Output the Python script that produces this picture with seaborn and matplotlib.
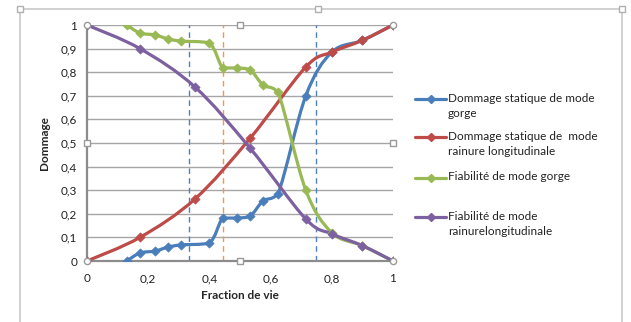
import numpy as np
import pandas as pd
import matplotlib
matplotlib.use("Agg")
import matplotlib.pyplot as plt
import seaborn as sns
from matplotlib.path import Path
from matplotlib.patches import PathPatch, Rectangle
from matplotlib.lines import Line2D

# ---- data ----
x_gorge = [0.13, 0.173, 0.222, 0.265, 0.307, 0.399, 0.444, 0.49, 0.533, 0.575, 0.624, 0.715, 0.8, 0.9, 1.0]
dommage_gorge = [0.0, 0.034, 0.042, 0.059, 0.068, 0.076, 0.182, 0.182, 0.19, 0.254, 0.284, 0.70, 0.885, 0.935, 1.0]
fiab_gorge = [1.0, 0.966, 0.958, 0.941, 0.932, 0.924, 0.818, 0.818, 0.81, 0.746, 0.716, 0.30, 0.12, 0.065, 0.0]

x_rainure = [0.0, 0.173, 0.353, 0.533, 0.715, 0.8, 0.9, 1.0]
dommage_rainure = [0.0, 0.10, 0.263, 0.52, 0.822, 0.885, 0.935, 1.0]
fiab_rainure = [1.0, 0.90, 0.737, 0.478, 0.178, 0.115, 0.065, 0.0]

vlines_x = [1/3, 0.443, 0.748]
vlines_colors = ["#4F81BD", "#F79646", "#4F81BD"]

labels = ["Dommage statique de mode\ngorge",
          "Dommage statique de  mode\nrainure longitudinale",
          "Fiabilité de mode gorge",
          "Fiabilité de mode\nrainurelongitudinale"]
colors = ["#4A7EBB", "#BE4B48", "#98B954", "#7D60A0"]

x_ticks = [0, 0.2, 0.4, 0.6, 0.8, 1.0]
y_ticks = [round(0.1 * i, 1) for i in range(11)]

def fmt(v):
    return ("%g" % v).replace(".", ",")

series = [
    (x_gorge, dommage_gorge),
    (x_rainure, dommage_rainure),
    (x_gorge, fiab_gorge),
    (x_rainure, fiab_rainure),
]

sns.set_theme(style="white")
plt.rcParams["font.family"] = ["Lato", "DejaVu Sans"]

fig = plt.figure(figsize=(6.31, 3.22), dpi=100)
ax = fig.add_axes([87/631, 1-261/322, 306/631, 236/322])

def smooth_path(xs, ys):
    P = np.column_stack([xs, ys]).astype(float)
    n = len(P)
    verts = [P[0]]
    codes = [Path.MOVETO]
    for i in range(n - 1):
        p0 = P[i - 1] if i > 0 else P[i]
        p1 = P[i]
        p2 = P[i + 1]
        p3 = P[i + 2] if i + 2 < n else P[i + 1]
        c1 = p1 + (p2 - p0) / 6.0
        c2 = p2 - (p3 - p1) / 6.0
        lo, hi = min(p1[1], p2[1]), max(p1[1], p2[1])
        c1[1] = np.clip(c1[1], lo, hi)
        c2[1] = np.clip(c2[1], lo, hi)
        verts += [c1, c2, p2]
        codes += [Path.CURVE4] * 3
    return Path(verts, codes)

# grid
for yv in y_ticks[1:]:
    ax.axhline(yv, color="#A6A6A6", lw=1.0, zorder=0)

for xv, c in zip(vlines_x, vlines_colors):
    ax.axvline(xv, color=c, lw=1.0, ls=(0, (4, 3)), zorder=1)

for (xs, ys), c in zip(series, colors):
    patch = PathPatch(smooth_path(xs, ys), facecolor="none", edgecolor=c,
                      lw=2.3, transform=ax.transData, zorder=2, capstyle="round")
    ax.add_patch(patch)
    df = pd.DataFrame({"x": xs, "y": ys})
    sns.scatterplot(data=df, x="x", y="y", ax=ax, marker="D", s=22,
                    color=c, edgecolor=c, linewidth=0.5, zorder=3, legend=False)

ax.set_xlim(0, 1)
ax.set_ylim(0, 1)
ax.set_xticks(x_ticks)
ax.set_xticklabels([fmt(v) for v in x_ticks], fontsize=8.5, color="#222222")
ax.set_yticks(y_ticks)
ax.set_yticklabels([fmt(v) for v in y_ticks], fontsize=8.5, color="#222222")
ax.tick_params(axis="both", length=3, width=1, color="#888888", direction="out", pad=4)
ax.tick_params(axis="x", pad=6)
for side in ["top", "right"]:
    ax.spines[side].set_visible(False)
for side in ["left", "bottom"]:
    ax.spines[side].set_color("#8C8C8C")
    ax.spines[side].set_linewidth(1.6)
ax.set_xlabel("Fraction de vie", fontsize=8.5, fontweight="bold", labelpad=4)
ax.set_ylabel("Dommage", fontsize=8.5, fontweight="bold", labelpad=8)

# selection handles of the plot area
hx = [0, 0.5, 1, 0, 1, 0, 0.5, 1]
hy = [1, 1, 1, 0.5, 0.5, 0, 0, 0]
hm = ["o", "s", "o", "s", "s", "o", "s", "o"]
for a, b, m in zip(hx, hy, hm):
    ax.plot([a], [b], marker=m, ms=4.5, mfc="white", mec="#9A9A9A", mew=1,
            clip_on=False, zorder=5, ls="none")

# outer chart frame
fig.add_artist(Rectangle((20/631, 1-325/322), 602/631, 316/322, transform=fig.transFigure,
                         facecolor="none", edgecolor="#C8C8C8", lw=1.2, clip_on=False))
for px, py in [(20, 9), (318, 9), (622, 9)]:
    fig.add_artist(Line2D([px/631], [1-py/322], marker="s", ms=4.5, mfc="white",
                          mec="#B0B0B0", mew=1, transform=fig.transFigure, ls="none"))

# legend
leg_y = [99, 137, 178, 217]
for lab, c, yp in zip(labels, colors, leg_y):
    yf = 1 - yp/322
    fig.add_artist(Line2D([415/631, 446/631], [yf, yf], color=c, lw=2.3,
                          transform=fig.transFigure))
    fig.add_artist(Line2D([430.5/631], [yf], color=c, marker="D", ms=4.5,
                          transform=fig.transFigure, ls="none"))
    fig.text(448/631, yf + 6.5/322, lab, fontsize=8.5, color="#222222",
             va="top", ha="left", linespacing=1.5)

fig.savefig("out.png", dpi=100)
